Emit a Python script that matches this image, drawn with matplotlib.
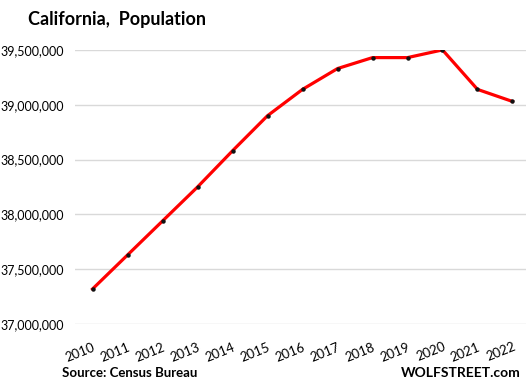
import matplotlib
matplotlib.use('Agg')
import matplotlib.pyplot as plt
from matplotlib.ticker import FuncFormatter

years = [str(y) for y in range(2010, 2023)]
population = [37320000, 37630000, 37940000, 38250000, 38580000, 38900000,
              39140000, 39330000, 39430000, 39430000, 39500000, 39140000, 39030000]
y_ticks = [37000000, 37500000, 38000000, 38500000, 39000000, 39500000]

plt.rcParams['font.family'] = ['Lato', 'DejaVu Sans']

fig = plt.figure(figsize=(5.26, 3.84), dpi=100)
ax = fig.add_axes([0.1426, 0.156, 0.865, 0.714])

x = list(range(len(years)))
ax.plot(x, population, color='#ff0000', linewidth=2.3, zorder=3)
ax.plot(x, population, linestyle='none', marker='o', markersize=2.2,
        color='#111111', zorder=4)

ax.set_xlim(-0.5, len(years) - 0.5)
ax.set_ylim(37000000, 39500000)
ax.set_yticks(y_ticks)
ax.yaxis.set_major_formatter(FuncFormatter(lambda v, p: f'{int(v):,}'))
ax.set_xticks(x)
ax.set_xticklabels(years, rotation=22, ha='right', va='top',
                   rotation_mode='anchor', fontsize=9.5)
ax.tick_params(axis='y', labelsize=9, length=0, pad=8)
ax.tick_params(axis='x', length=0, pad=12)
ax.grid(axis='y', color='#d9d9d9', linewidth=1)
ax.set_axisbelow(True)
for s in ax.spines.values():
    s.set_visible(False)

fig.text(28 / 526, 1 - 20 / 384, 'California,  Population', fontsize=13,
         fontweight='bold', va='center', ha='left')
fig.text(62 / 526, 1 - 373 / 384, 'Source: Census Bureau', fontsize=9.5,
         fontweight='bold', va='center', ha='left')
fig.text(521 / 526, 1 - 373 / 384, 'WOLFSTREET.com', fontsize=10,
         fontweight='bold', va='center', ha='right')

fig.savefig('out.png', dpi=100)
